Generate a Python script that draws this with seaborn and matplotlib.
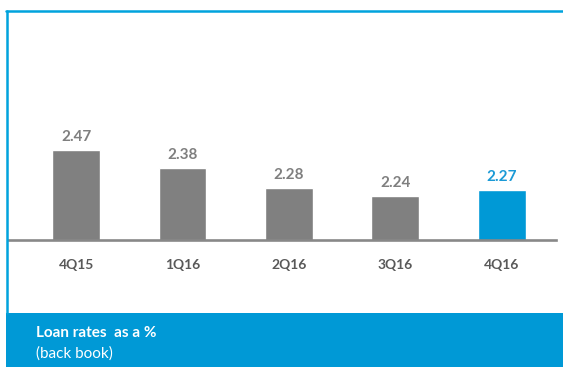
import matplotlib
matplotlib.use("Agg")
import matplotlib.pyplot as plt
from matplotlib.patches import Rectangle
from matplotlib.lines import Line2D
import seaborn as sns
import pandas as pd

quarters = ["4Q15", "1Q16", "2Q16", "3Q16", "4Q16"]
loan_rates = [2.47, 2.38, 2.28, 2.24, 2.27]
bar_colors = ["#808080", "#808080", "#808080", "#808080", "#0099D6"]
label_colors = ["#7F7F7F", "#7F7F7F", "#7F7F7F", "#7F7F7F", "#1B9AD6"]

sns.set_theme(style="white")
plt.rcParams["font.family"] = ["Lato", "DejaVu Sans"]

W, H = 563, 367
fig = plt.figure(figsize=(W / 100, H / 100), dpi=100)
fig.patch.set_facecolor("white")

ax = fig.add_axes([8 / W, (H - 240) / H, (556 - 8) / W, (240 - 20) / H])
df = pd.DataFrame({"quarter": quarters, "rate": loan_rates})
sns.barplot(data=df, x="quarter", y="rate", hue="quarter",
            palette=bar_colors, width=0.45, legend=False, ax=ax,
            saturation=1)

ax.set_ylim(2.02, 3.12)
ax.set_xlim(-0.64, 4.51)
ax.set_xlabel("")
ax.set_ylabel("")
ax.set_yticks([])
for s in ["top", "left", "right"]:
    ax.spines[s].set_visible(False)
ax.spines["bottom"].set_color("#888888")
ax.spines["bottom"].set_linewidth(1.9)
ax.tick_params(axis="x", length=0, pad=13.5, labelsize=10, labelcolor="#595959")
for t in ax.get_xticklabels():
    t.set_fontweight("bold")
ax.patch.set_alpha(0)

for container, col in zip(ax.containers, label_colors):
    ax.bar_label(container, fmt="%.2f", padding=4, color=col,
                 fontsize=11, fontweight="bold")

# frame lines and caption band
fig.add_artist(Line2D([6 / W, 1], [(H - 11) / H] * 2, color="#00A3DD", lw=1.8))
fig.add_artist(Line2D([7 / W] * 2, [(H - 313) / H, (H - 11) / H],
                      color="#00A3DD", lw=1.8))
fig.add_artist(Rectangle((6 / W, 0), 1 - 6 / W, (H - 313) / H,
                         transform=fig.transFigure, color="#0099D6", lw=0))
fig.text(36 / W, (H - 333) / H, "Loan rates  as a %", color="white",
         fontsize=11, fontweight="bold", va="center", ha="left")
fig.text(36 / W, (H - 354) / H, "(back book)", color="white",
         fontsize=11, va="center", ha="left")

fig.savefig("out.png", dpi=100)
